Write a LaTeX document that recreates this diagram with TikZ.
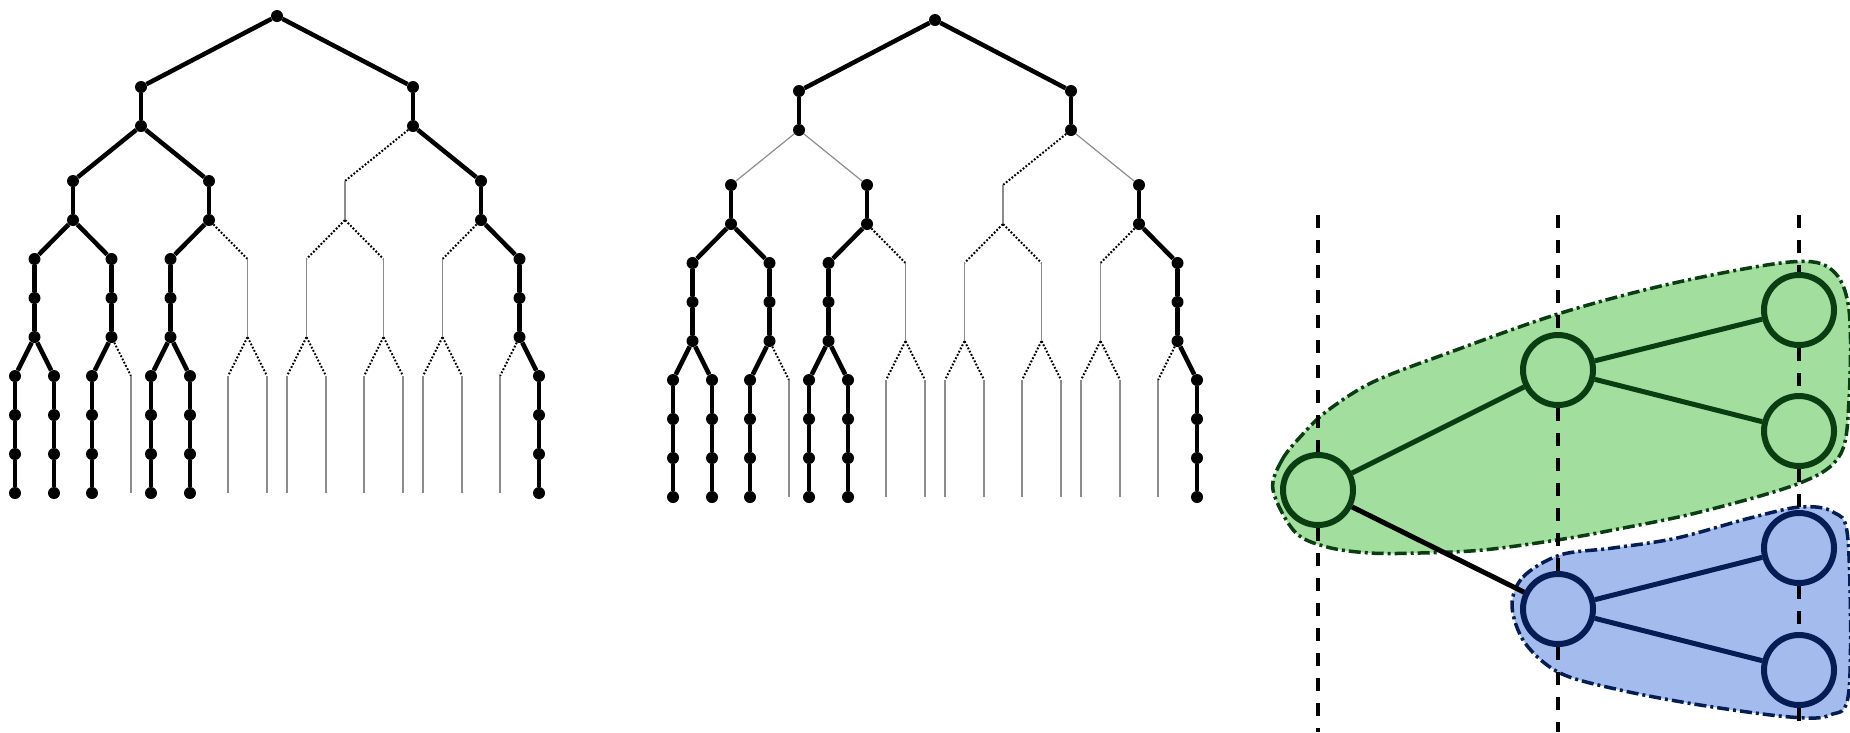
\documentclass[tikz,border=0pt]{standalone}
\usepackage{tikz}
\definecolor{greenfill}{RGB}{162,222,158}
\definecolor{greenline}{RGB}{10,62,18}
\definecolor{bluefill}{RGB}{164,187,238}
\definecolor{blueline}{RGB}{5,28,85}
\tikzset{
  boldedge/.style={line width=4.5pt, black},
  dotedge/.style={line width=2pt, black, dash pattern=on 1.8pt off 1.8pt},
  thinedge/.style={line width=1.2pt, black!45},
  vertex/.style={circle, fill=black, inner sep=0pt, minimum size=12pt},
  hidden/.style={inner sep=0pt, minimum size=0pt},
  guide/.style={line width=3.5pt, black, dash pattern=on 13pt off 12pt},
  cluster/.style={line width=3.5pt, dash pattern=on 12pt off 4pt on 3pt off 4pt},
  state/.style={circle, line width=6pt, minimum size=70pt, inner sep=0pt},
  link/.style={line width=5pt}
}

\begin{document}
\begin{tikzpicture}[x=1pt, y=-1pt]
  \useasboundingbox (0,0) rectangle (1850,732);

  % the two trees
  \foreach \t/\dx/\dy/\s in {a/0/0/boldedge, b/658/4/thinedge} {
    \begin{scope}[shift={(\dx,\dy)}]
      \node[vertex] (\t-r) at (277,16) {};
      \foreach \i in {0,1} {
        \node[vertex] (\t-1-\i-0) at ({141+272*\i},87) {};
        \node[vertex] (\t-1-\i-1) at ({141+272*\i},126) {};
        \draw[boldedge] (\t-r) -- (\t-1-\i-0);
        \draw[boldedge] (\t-1-\i-0) -- (\t-1-\i-1);
      }
      \foreach \i/\d/\v/\m in {0/\s/boldedge/vertex, 1/\s/boldedge/vertex,
                               2/dotedge/thinedge/hidden, 3/\s/boldedge/vertex} {
        \pgfmathtruncatemacro\p{\i/2}
        \pgfmathsetmacro\x{73+136*\i}
        \node[\m] (\t-2-\i-0) at (\x,181) {};
        \node[\m] (\t-2-\i-1) at (\x,220) {};
        \draw[\d] (\t-1-\p-1) -- (\t-2-\i-0);
        \draw[\v] (\t-2-\i-0) -- (\t-2-\i-1);
      }
      \foreach \i/\d/\v/\m in {0/boldedge/boldedge/vertex, 1/boldedge/boldedge/vertex,
                               2/boldedge/boldedge/vertex, 3/dotedge/thinedge/hidden,
                               4/dotedge/thinedge/hidden, 5/dotedge/thinedge/hidden,
                               6/dotedge/thinedge/hidden, 7/boldedge/boldedge/vertex} {
        \pgfmathtruncatemacro\p{\i/2}
        \pgfmathsetmacro\x{73+136*\p-38.5+77*mod(\i,2)}
        \node[\m] (\t-3-\i-0) at (\x,259) {};
        \node[\m] (\t-3-\i-1) at (\x,298) {};
        \node[\m] (\t-3-\i-2) at (\x,337) {};
        \draw[\d] (\t-2-\p-1) -- (\t-3-\i-0);
        \draw[\v] (\t-3-\i-0) -- (\t-3-\i-1) -- (\t-3-\i-2);
      }
      \foreach \i/\d/\v/\m in {0/boldedge/boldedge/vertex, 1/boldedge/boldedge/vertex,
                               2/boldedge/boldedge/vertex, 3/dotedge/thinedge/hidden,
                               4/boldedge/boldedge/vertex, 5/boldedge/boldedge/vertex,
                               6/dotedge/thinedge/hidden, 7/dotedge/thinedge/hidden,
                               8/dotedge/thinedge/hidden, 9/dotedge/thinedge/hidden,
                               10/dotedge/thinedge/hidden, 11/dotedge/thinedge/hidden,
                               12/dotedge/thinedge/hidden, 13/dotedge/thinedge/hidden,
                               14/dotedge/thinedge/hidden, 15/boldedge/boldedge/vertex} {
        \pgfmathtruncatemacro\p{\i/2}
        \pgfmathtruncatemacro\q{\p/2}
        \pgfmathsetmacro\x{73+136*\q-38.5+77*mod(\p,2)-19.5+39*mod(\i,2)}
        \node[\m] (\t-4-\i-0) at (\x,376) {};
        \node[\m] (\t-4-\i-1) at (\x,415) {};
        \node[\m] (\t-4-\i-2) at (\x,454) {};
        \node[\m] (\t-4-\i-3) at (\x,493) {};
        \draw[\d] (\t-3-\p-2) -- (\t-4-\i-0);
        \draw[\v] (\t-4-\i-0) -- (\t-4-\i-1) -- (\t-4-\i-2) -- (\t-4-\i-3);
      }
    \end{scope}
  }

  % clusters
  \draw[cluster, draw=greenline, fill=greenfill] plot[smooth cycle, tension=0.55] coordinates {
    (1273,490) (1282,460) (1302,435) (1327,411) (1373,382) (1448,353) (1561,313)
    (1674,283) (1790,262) (1832,270) (1849,310) (1849,400) (1840,455) (1800,483)
    (1700,512) (1613,530) (1557,540) (1483,550) (1420,553) (1370,553) (1327,547) (1295,532)};
  \draw[cluster, draw=blueline, fill=bluefill] plot[smooth cycle, tension=0.55] coordinates {
    (1512,606) (1523,577) (1560,555) (1613,548) (1677,538) (1750,518) (1800,507)
    (1833,512) (1848,540) (1849,690) (1830,715) (1790,717) (1700,705)
    (1620,690) (1560,673) (1525,643)};

  \node[state, draw=greenline, fill=greenfill] (A) at (1318,490) {};
  \node[state, draw=greenline, fill=greenfill] (B) at (1558,370) {};
  \node[state, draw=greenline, fill=greenfill] (C) at (1799,310) {};
  \node[state, draw=greenline, fill=greenfill] (D) at (1799,431) {};
  \node[state, draw=blueline, fill=bluefill] (E) at (1558,609) {};
  \node[state, draw=blueline, fill=bluefill] (F) at (1799,548) {};
  \node[state, draw=blueline, fill=bluefill] (G) at (1799,670) {};

  % levels
  \coordinate (top) at (0,215);
  \coordinate (bot) at (0,732);
  \draw[guide] (A |- top) -- (A.north);
  \draw[guide] (A.south) -- (A |- bot);
  \draw[guide] (B |- top) -- (B.north);
  \draw[guide] (B.south) -- (E.north);
  \draw[guide] (E.south) -- (E |- bot);
  \draw[guide] (C |- top) -- (C.north);
  \draw[guide] (C.south) -- (D.north);
  \draw[guide] (D.south) -- (F.north);
  \draw[guide] (F.south) -- (G.north);
  \draw[guide] (G.south) -- (G |- bot);

  \draw[link, greenline] (A) -- (B);
  \draw[link, greenline] (B) -- (C);
  \draw[link, greenline] (B) -- (D);
  \draw[link, black] (A) -- (E);
  \draw[link, blueline] (E) -- (F);
  \draw[link, blueline] (E) -- (G);
\end{tikzpicture}
\end{document}
